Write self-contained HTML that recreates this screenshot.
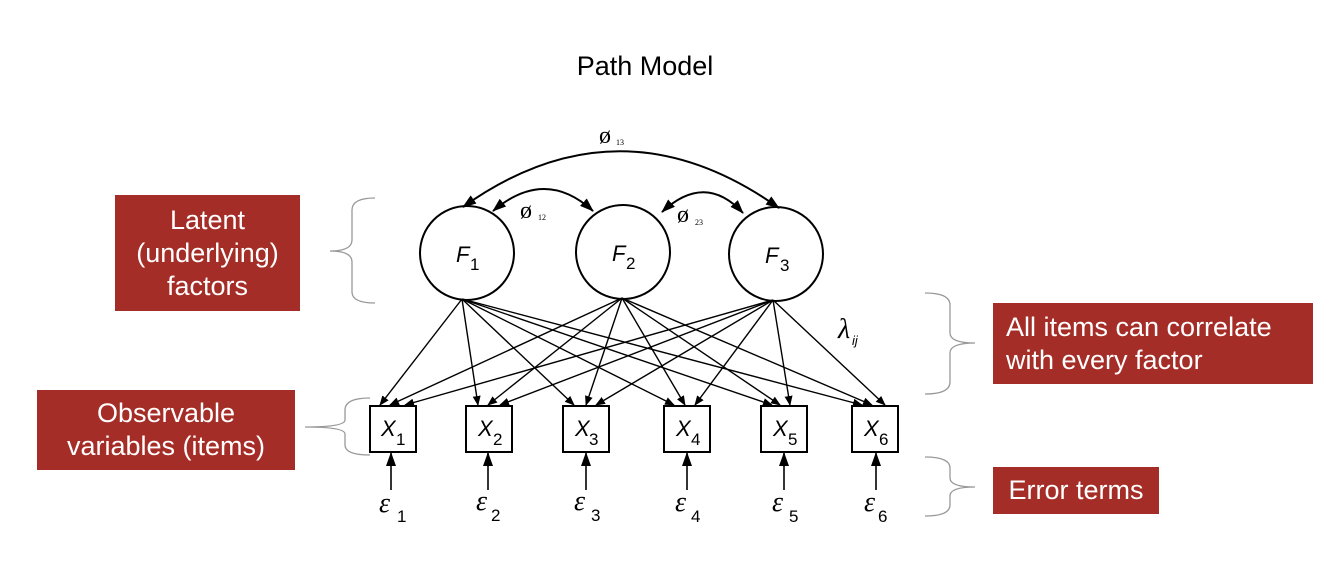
<!DOCTYPE html>
<html><head><meta charset="utf-8"><style>
html,body{margin:0;padding:0;background:#fff;width:1334px;height:570px;overflow:hidden}
.lab{position:absolute;background:#a52d27;color:#fff;font-family:"Liberation Sans Narrow","Liberation Sans",sans-serif;font-size:27px;line-height:33px;display:flex;align-items:center;justify-content:center;text-align:center}
</style></head><body>
<svg width="1334" height="570" style="position:absolute;left:0;top:0" font-family="Liberation Sans, DejaVu Sans, sans-serif">
<defs>
<marker id="a" markerWidth="10" markerHeight="8" refX="9" refY="4" orient="auto" markerUnits="userSpaceOnUse"><path d="M0,0 L10,4 L0,8 Z" fill="#000"/></marker>
<marker id="b" markerWidth="14" markerHeight="10" refX="13" refY="5" orient="auto-start-reverse" markerUnits="userSpaceOnUse"><path d="M0,0 L14,5 L0,10 Z" fill="#000"/></marker>
</defs>
<text x="645" y="75" font-size="27" text-anchor="middle" font-family="Liberation Sans Narrow, Liberation Sans, sans-serif">Path Model</text>
<g stroke="#000" stroke-width="2" fill="none">
<path d="M463,207 Q620,95 779,208" marker-start="url(#b)" marker-end="url(#b)"/>
<path d="M493,211 Q545,167 593,211" marker-start="url(#b)" marker-end="url(#b)"/>
<path d="M662,212 Q705,172 743,213" marker-start="url(#b)" marker-end="url(#b)"/>
<circle cx="467" cy="253" r="47"/><circle cx="623" cy="252" r="47"/><circle cx="776" cy="254" r="47"/>
<rect x="370" y="406" width="46" height="46"/><rect x="466" y="406" width="46" height="46"/><rect x="563" y="406" width="46" height="46"/><rect x="664" y="406" width="46" height="46"/><rect x="761" y="406" width="46" height="46"/><rect x="852" y="406" width="46" height="46"/>
</g>
<g stroke="#000" stroke-width="1.4" marker-end="url(#a)">
<line x1="462" y1="299" x2="380" y2="405"/><line x1="462" y1="299" x2="478" y2="405"/><line x1="462" y1="299" x2="574" y2="405"/><line x1="462" y1="299" x2="674" y2="405"/><line x1="462" y1="299" x2="772" y2="405"/><line x1="462" y1="299" x2="862" y2="405"/>
<line x1="622" y1="298" x2="390" y2="405"/><line x1="622" y1="298" x2="488" y2="405"/><line x1="622" y1="298" x2="586" y2="405"/><line x1="622" y1="298" x2="685" y2="405"/><line x1="622" y1="298" x2="780" y2="405"/><line x1="622" y1="298" x2="872" y2="405"/>
<line x1="773" y1="300" x2="405" y2="405"/><line x1="773" y1="300" x2="500" y2="405"/><line x1="773" y1="300" x2="596" y2="405"/><line x1="773" y1="300" x2="695" y2="405"/><line x1="773" y1="300" x2="790" y2="405"/><line x1="773" y1="300" x2="885" y2="405"/>
</g>
<g stroke="#000" stroke-width="1.6" marker-end="url(#b)">
<line x1="391" y1="490" x2="391" y2="453"/><line x1="488" y1="490" x2="488" y2="453"/><line x1="586" y1="490" x2="586" y2="453"/><line x1="687" y1="490" x2="687" y2="453"/><line x1="784" y1="490" x2="784" y2="453"/><line x1="876" y1="490" x2="876" y2="453"/>
</g>
<g font-size="22" font-style="italic">
<text x="456" y="262">F</text><text x="612" y="261">F</text><text x="765" y="263">F</text>
<text x="381" y="436">X</text><text x="478" y="436">X</text><text x="575" y="436">X</text><text x="676" y="436">X</text><text x="773" y="436">X</text><text x="864" y="436">X</text>
</g>
<g font-size="17">
<text x="470" y="270">1</text><text x="626" y="269">2</text><text x="780" y="271">3</text>
<text x="396" y="445">1</text><text x="493" y="445">2</text><text x="589" y="445">3</text><text x="691" y="445">4</text><text x="788" y="445">5</text><text x="879" y="445">6</text>
<text x="397" y="522">1</text><text x="491" y="521">2</text><text x="591" y="521">3</text><text x="691" y="522">4</text><text x="789" y="522">5</text><text x="878" y="522">6</text>
</g>
<g font-size="28" font-style="italic" font-family="Liberation Serif, serif">
<text x="379" y="512">ε</text><text x="476" y="510">ε</text><text x="574" y="510">ε</text><text x="675" y="511">ε</text><text x="772" y="511">ε</text><text x="864" y="511">ε</text>
<text x="838" y="338">λ</text>
</g>
<text x="852" y="345" font-size="13" font-style="italic">ij</text>
<g font-family="Liberation Serif, serif">
<text x="599" y="143" font-size="24">ø</text><text x="616" y="145" font-size="8">13</text>
<text x="520" y="218" font-size="24">ø</text><text x="538" y="220" font-size="8">12</text>
<text x="677" y="222" font-size="24">ø</text><text x="695" y="225" font-size="8">23</text>
</g>
<g stroke="#999" stroke-width="1.3" fill="none">
<path d="M375,198 Q352,198 352,210 L352,240 Q352,251 330,251 Q352,251 352,262 L352,292 Q352,303 375,303"/>
<path d="M370,398 Q345,398 345,410 L345,420 Q345,427 305,427 Q345,427 345,434 L345,445 Q345,455 370,455"/>
<path d="M925,293 Q950,293 950,305 L950,333 Q950,343 975,343 Q950,343 950,353 L950,382 Q950,394 925,394"/>
<path d="M925,457 Q950,457 950,468 L950,478 Q950,487 975,487 Q950,487 950,496 L950,505 Q950,516 925,516"/>
</g>
</svg>
<div class="lab" style="left:115px;top:195px;width:185px;height:116px">Latent<br>(underlying)<br>factors</div>
<div class="lab" style="left:37px;top:390px;width:258px;height:80px">Observable<br>variables (items)</div>
<div class="lab" style="left:993px;top:303px;width:320px;height:81px;justify-content:flex-start;text-align:left;padding-left:13px;box-sizing:border-box">All items can correlate<br>with every factor</div>
<div class="lab" style="left:993px;top:467px;width:166px;height:47px">Error terms</div>
</body></html>
